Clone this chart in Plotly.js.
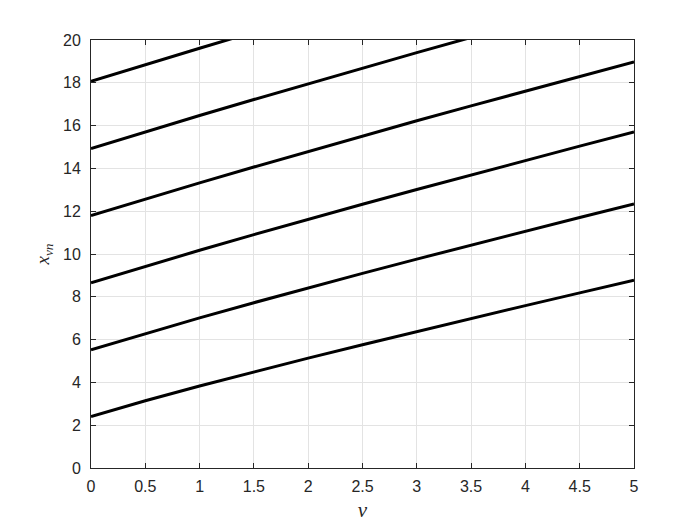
<!DOCTYPE html>
<html>
<head>
<meta charset="utf-8">
<script src="https://cdn.plot.ly/plotly-3.0.1.min.js"></script>
<style>
  body { margin: 0; background: #fff; }
  #plot { width: 700px; height: 526px; }
</style>
</head>
<body>
<div id="plot"></div>
<script>
// order nu, read at half steps
const nu = [0, 0.5, 1, 1.5, 2, 2.5, 3, 3.5, 4, 4.5, 5];

// zeros x_{nu,n}, n = 1..6
const zero1 = [2.405, 3.142, 3.832, 4.493, 5.136, 5.763, 6.380, 6.988, 7.588, 8.183, 8.771];
const zero2 = [5.520, 6.283, 7.016, 7.725, 8.417, 9.095, 9.761, 10.417, 11.065, 11.705, 12.339];
const zero3 = [8.654, 9.425, 10.174, 10.904, 11.620, 12.323, 13.015, 13.698, 14.373, 15.040, 15.700];
const zero4 = [11.792, 12.566, 13.324, 14.066, 14.796, 15.515, 16.224, 16.924, 17.616, 18.301, 18.980];
const zero5 = [14.931, 15.708, 16.471, 17.221, 17.960, 18.689, 19.409, 20.120, 20.827, 21.520, 22.218];
const zero6 = [18.071, 18.850, 19.616, 20.371, 21.117, 21.850, 22.580];

const series = [zero1, zero2, zero3, zero4, zero5, zero6];

const data = series.map(function (ys) {
  return {
    x: nu.slice(0, ys.length),
    y: ys,
    type: "scatter",
    mode: "lines",
    line: { color: "#000000", width: 3 },
    showlegend: false,
    hoverinfo: "skip"
  };
});

const axisStyle = {
  showline: true,
  mirror: "ticks",
  linecolor: "#262626",
  linewidth: 1,
  ticks: "inside",
  ticklen: 5,
  tickcolor: "#262626",
  showgrid: true,
  gridcolor: "#e3e3e3",
  zeroline: false,
  tickfont: { family: "Liberation Sans, Arial, sans-serif", size: 16, color: "#262626" }
};

var layout = {
  width: 700,
  height: 526,
  margin: { l: 91, r: 66, t: 40, b: 58 },
  paper_bgcolor: "#ffffff",
  plot_bgcolor: "#ffffff",
  xaxis: Object.assign({}, axisStyle, {
    range: [0, 5],
    tickvals: [0, 0.5, 1, 1.5, 2, 2.5, 3, 3.5, 4, 4.5, 5],
    ticktext: ["0", "0.5", "1", "1.5", "2", "2.5", "3", "3.5", "4", "4.5", "5"],
    ticklabelstandoff: 4,
    title: {
      text: "<i>ν</i>",
      font: { family: "Liberation Serif, Times New Roman, serif", size: 21, color: "#262626" },
      standoff: 8
    }
  }),
  yaxis: Object.assign({}, axisStyle, {
    range: [0, 20],
    tickvals: [0, 2, 4, 6, 8, 10, 12, 14, 16, 18, 20],
    ticklabelstandoff: 6,
    title: {
      text: "<i>x</i><sub><i>νn</i></sub>",
      font: { family: "Liberation Serif, Times New Roman, serif", size: 19, color: "#262626" },
      standoff: 8
    }
  })
};

Plotly.newPlot(document.getElementById("plot"), data, layout, { displayModeBar: false, staticPlot: true });
</script>
</body>
</html>
